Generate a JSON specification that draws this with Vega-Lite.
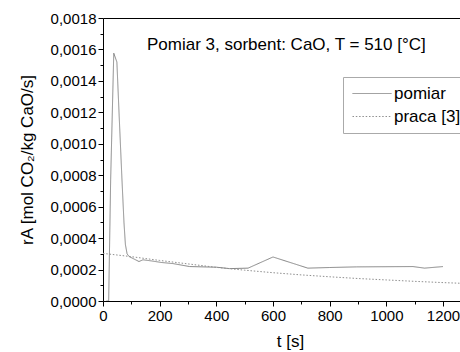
{
  "$schema": "https://vega.github.io/schema/vega-lite/v6.json",
  "width": 357,
  "height": 283,
  "autosize": {"type": "none"},
  "padding": {"left": 103, "top": 18, "right": 0, "bottom": 51},
  "background": "white",
  "config": {
    "view": {"stroke": null},
    "font": "Liberation Sans",
    "locale": {"number": {"decimal": ",", "thousands": "", "grouping": [3], "currency": ["", ""]}},
    "axis": {"domainColor": "black", "tickColor": "black", "labelColor": "black", "titleColor": "black", "grid": false, "labelFont": "Liberation Sans", "titleFont": "Liberation Sans", "labelFontSize": 15, "titleFontSize": 17, "titleFontWeight": "normal"}
  },
  "title": {"text": "Pomiar 3, sorbent: CaO, T = 510 [°C]", "anchor": "start", "frame": "group", "dx": 44, "offset": -43, "fontSize": 17, "fontWeight": "normal", "font": "Liberation Sans", "color": "black"},
  "data": {"values": [
    {"t": 12, "r": 0.0, "s": "pomiar"},
    {"t": 20, "r": 0.0, "s": "pomiar"},
    {"t": 27, "r": 0.00077, "s": "pomiar"},
    {"t": 38, "r": 0.001576, "s": "pomiar"},
    {"t": 49, "r": 0.00152, "s": "pomiar"},
    {"t": 57, "r": 0.00118, "s": "pomiar"},
    {"t": 67, "r": 0.00077, "s": "pomiar"},
    {"t": 74, "r": 0.0005, "s": "pomiar"},
    {"t": 79, "r": 0.00036, "s": "pomiar"},
    {"t": 85, "r": 0.0003, "s": "pomiar"},
    {"t": 92, "r": 0.000283, "s": "pomiar"},
    {"t": 127, "r": 0.000251, "s": "pomiar"},
    {"t": 141, "r": 0.000262, "s": "pomiar"},
    {"t": 171, "r": 0.000255, "s": "pomiar"},
    {"t": 206, "r": 0.000245, "s": "pomiar"},
    {"t": 247, "r": 0.000238, "s": "pomiar"},
    {"t": 306, "r": 0.000219, "s": "pomiar"},
    {"t": 400, "r": 0.000215, "s": "pomiar"},
    {"t": 447, "r": 0.000206, "s": "pomiar"},
    {"t": 512, "r": 0.000209, "s": "pomiar"},
    {"t": 600, "r": 0.00028, "s": "pomiar"},
    {"t": 723, "r": 0.000209, "s": "pomiar"},
    {"t": 800, "r": 0.000213, "s": "pomiar"},
    {"t": 894, "r": 0.000217, "s": "pomiar"},
    {"t": 1094, "r": 0.000219, "s": "pomiar"},
    {"t": 1135, "r": 0.000209, "s": "pomiar"},
    {"t": 1200, "r": 0.000219, "s": "pomiar"},
    {"t": 0, "r": 0.000303, "s": "praca [3]"},
    {"t": 100, "r": 0.000282, "s": "praca [3]"},
    {"t": 200, "r": 0.000258, "s": "praca [3]"},
    {"t": 300, "r": 0.000236, "s": "praca [3]"},
    {"t": 400, "r": 0.000214, "s": "praca [3]"},
    {"t": 500, "r": 0.000196, "s": "praca [3]"},
    {"t": 600, "r": 0.00018, "s": "praca [3]"},
    {"t": 700, "r": 0.000166, "s": "praca [3]"},
    {"t": 800, "r": 0.000154, "s": "praca [3]"},
    {"t": 900, "r": 0.000143, "s": "praca [3]"},
    {"t": 1000, "r": 0.000134, "s": "praca [3]"},
    {"t": 1100, "r": 0.000125, "s": "praca [3]"},
    {"t": 1200, "r": 0.000117, "s": "praca [3]"},
    {"t": 1260, "r": 0.000113, "s": "praca [3]"}
  ]},
  "layer": [
    {
      "mark": {"type": "line", "strokeWidth": 1, "clip": true},
      "encoding": {
        "x": {"field": "t", "type": "quantitative", "scale": {"domain": [0, 1260], "nice": false, "zero": false},
              "axis": {"orient": "bottom", "title": "t [s]", "titleX": 187, "titlePadding": 10, "values": [0, 200, 400, 600, 800, 1000, 1200], "format": "d", "tickSize": 5, "labelPadding": 2, "labelFlush": false}},
        "y": {"field": "r", "type": "quantitative", "scale": {"domain": [0, 0.0018], "nice": false},
              "axis": {"orient": "left", "title": "rA [mol CO₂/kg CaO/s]", "titlePadding": 14, "values": [0, 0.0002, 0.0004, 0.0006, 0.0008, 0.001, 0.0012, 0.0014, 0.0016, 0.0018], "format": ".4f", "tickSize": 5, "labelPadding": 2}},
        "color": {"field": "s", "type": "nominal", "scale": {"domain": ["pomiar", "praca [3]"], "range": ["#858585", "#8f8f8f"]},
                  "legend": {"title": null, "orient": "none", "legendX": 240, "legendY": 59, "symbolType": "M-1.4,0H6.4", "symbolSize": 100, "symbolStrokeWidth": 1, "labelFontSize": 17, "labelFont": "Liberation Sans", "labelColor": "black", "labelOffset": 26, "strokeColor": "#aaaaaa", "fillColor": "white", "padding": 8, "rowPadding": 5, "labelLimit": 200}},
        "strokeDash": {"field": "s", "type": "nominal", "scale": {"domain": ["pomiar", "praca [3]"], "range": [[1, 0], [1.5, 1.8]]},
                  "legend": {"title": null, "orient": "none", "legendX": 240, "legendY": 59, "symbolType": "M-1.4,0H6.4", "symbolSize": 100, "symbolStrokeWidth": 1, "labelFontSize": 17, "labelFont": "Liberation Sans", "labelColor": "black", "labelOffset": 26, "strokeColor": "#aaaaaa", "fillColor": "white", "padding": 8, "rowPadding": 5, "labelLimit": 200}}
      }
    },
    {
      "mark": {"type": "line", "opacity": 0},
      "encoding": {
        "x": {"field": "t", "type": "quantitative", "scale": {"domain": [0, 1260], "nice": false, "zero": false},
              "axis": {"orient": "bottom", "title": null, "labels": false, "domain": false, "values": [100, 300, 500, 700, 900, 1100], "tickSize": 3}},
        "y": {"field": "r", "type": "quantitative", "scale": {"domain": [0, 0.0018], "nice": false},
              "axis": {"orient": "left", "title": null, "labels": false, "domain": false, "values": [0.0001, 0.0003, 0.0005, 0.0007, 0.0009, 0.0011, 0.0013, 0.0015, 0.0017], "tickSize": 3}}
      }
    },
    {
      "mark": {"type": "line", "opacity": 0},
      "encoding": {
        "x": {"field": "t", "type": "quantitative", "scale": {"domain": [0, 1260], "nice": false, "zero": false},
              "axis": {"orient": "top", "title": null, "labels": false, "ticks": false, "domain": true}}
      }
    }
  ],
  "resolve": {"axis": {"x": "independent", "y": "independent"}}
}
